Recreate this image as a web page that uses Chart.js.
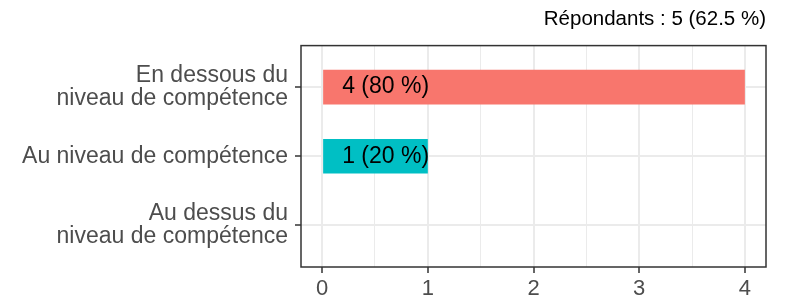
<!DOCTYPE html>
<html>
<head>
<meta charset="utf-8">
<script src="https://cdn.jsdelivr.net/npm/chart.js@4"></script>
<style>
  html, body { margin: 0; padding: 0; background: #fff; }
  #wrap { width: 788px; height: 299px; }
</style>
</head>
<body>
<div id="wrap"><canvas id="myChart" width="788" height="299"></canvas></div>
<script>
// données
const categories = [
    ['En dessous du', 'niveau de compétence'],
    ['Au niveau de compétence'],
    ['Au dessus du', 'niveau de compétence']
];
const counts = [4, 1, 0];
const barColors = ['#F8766D', '#00BFC4', '#619CFF'];
const xTicks = [0, 0.5, 1, 1.5, 2, 2.5, 3, 3.5, 4];
const respondents = 5;
const respondentsPct = 62.5;

const total = counts.reduce((a, b) => a + b, 0);
const FONT = 'Liberation Sans, Arial, sans-serif';

// cadre du panneau (style ggplot theme_bw)
const panelBorder = {
    id: 'panelBorder',
    afterDraw(chart) {
        const a = chart.chartArea;
        const ctx = chart.ctx;
        ctx.save();
        ctx.strokeStyle = '#333333';
        ctx.lineWidth = 1.5;
        ctx.strokeRect(a.left, a.top, a.right - a.left, a.bottom - a.top);
        ctx.restore();
    }
};

// étiquettes "n (x %)" sur les barres
const barLabels = {
    id: 'barLabels',
    afterDatasetsDraw(chart) {
        const ctx = chart.ctx;
        const meta = chart.getDatasetMeta(0);
        const x0 = chart.scales.x.getPixelForValue(0);
        ctx.save();
        ctx.font = '23px ' + FONT;
        ctx.fillStyle = '#000000';
        ctx.textAlign = 'left';
        ctx.textBaseline = 'middle';
        meta.data.forEach((bar, i) => {
            const v = counts[i];
            if (!v) return;
            const pct = Math.round(v / total * 100);
            ctx.fillText(v + ' (' + pct + ' %)', x0 + 20, bar.y);
        });
        ctx.restore();
    }
};

const ctx = document.getElementById('myChart').getContext('2d');
new Chart(ctx, {
    type: 'bar',
    data: {
        datasets: [{
            data: counts.map((v, i) => ({ x: v, y: i })),
            backgroundColor: barColors,
            borderWidth: 0,
            categoryPercentage: 1,
            barPercentage: 0.5
        }]
    },
    options: {
        indexAxis: 'y',
        responsive: false,
        animation: false,
        layout: { padding: { left: 0, right: 22, top: 0, bottom: 0 } },
        plugins: {
            legend: { display: false },
            tooltip: { enabled: false },
            title: {
                display: true,
                text: 'Répondants : ' + respondents + ' (' + respondentsPct + ' %)',
                align: 'end',
                color: '#000000',
                font: { family: FONT, size: 20.5, weight: 'normal', lineHeight: 1.2 },
                padding: { top: 7, bottom: 14 }
            }
        },
        scales: {
            x: {
                type: 'linear',
                min: -0.2,
                max: 4.2,
                afterBuildTicks: s => { s.ticks = xTicks.map(v => ({ value: v })); },
                afterFit: s => { s.height = 32; },
                border: { display: false },
                grid: {
                    color: '#EBEBEB',
                    lineWidth: c => (c.tick && c.tick.value % 1 === 0) ? 2 : 1,
                    tickColor: c => (c.tick && c.tick.value % 1 === 0) ? '#333333' : 'rgba(0,0,0,0)',
                    tickLength: 6,
                    tickWidth: 1.5
                },
                ticks: {
                    autoSkip: false,
                    maxRotation: 0,
                    padding: 5,
                    color: '#4D4D4D',
                    font: { family: FONT, size: 22, lineHeight: 1.0 },
                    callback: v => (v % 1 === 0 ? String(v) : '')
                }
            },
            y: {
                type: 'linear',
                reverse: true,
                offset: false,
                min: -0.6,
                max: 2.6,
                afterBuildTicks: s => { s.ticks = categories.map((c, i) => ({ value: i })); },
                afterFit: s => { s.width = 301; },
                border: { display: false },
                grid: {
                    offset: false,
                    color: '#EBEBEB',
                    lineWidth: 2,
                    tickColor: '#333333',
                    tickLength: 6,
                    tickWidth: 1.5
                },
                ticks: {
                    autoSkip: false,
                    padding: 7,
                    color: '#4D4D4D',
                    font: { family: FONT, size: 23, lineHeight: 1.0 },
                    callback: v => categories[v]
                }
            }
        }
    },
    plugins: [panelBorder, barLabels]
});
</script>
</body>
</html>
